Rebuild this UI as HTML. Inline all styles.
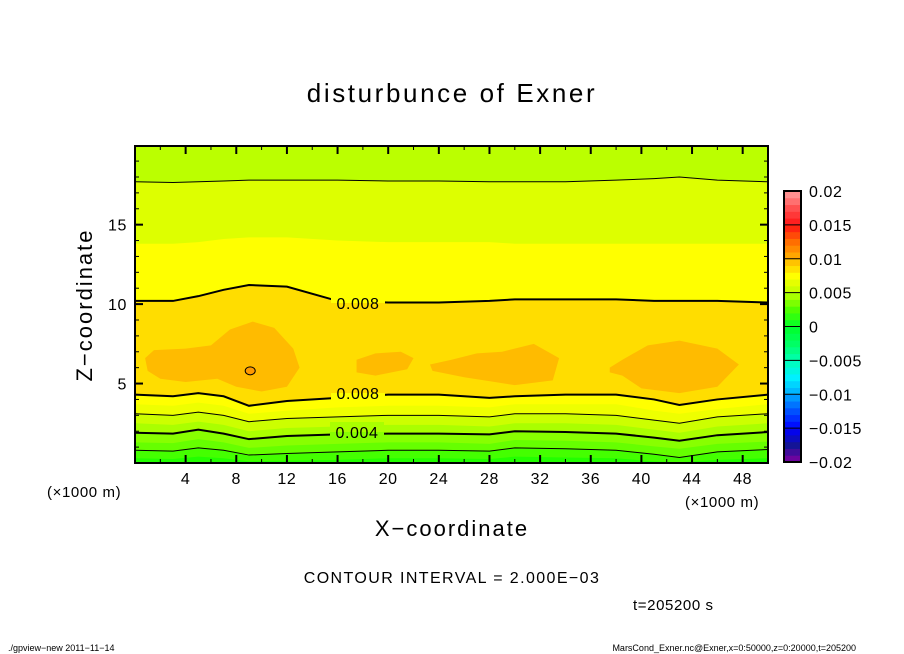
<!DOCTYPE html>
<html><head><meta charset="utf-8"><style>
body{margin:0;background:#fff;width:904px;height:654px;overflow:hidden}
svg{display:block;font-family:"Liberation Sans",sans-serif}
</style></head><body>
<svg id="chart" width="904" height="654" viewBox="0 0 904 654">
<text x="452" y="102" font-size="26" letter-spacing="2.6" text-anchor="middle">disturbunce of Exner</text>
<g id="plot"></g>
<g id="axes"></g>
<g id="cbar"></g>
<text x="452" y="536" font-size="22" letter-spacing="2" text-anchor="middle">X−coordinate</text>
<text transform="translate(92,305) rotate(-90)" font-size="22" letter-spacing="2" text-anchor="middle">Z−coordinate</text>
<text x="47" y="497" font-size="15" letter-spacing="0.6">(×1000 m)</text>
<text x="685" y="507" font-size="15" letter-spacing="0.6">(×1000 m)</text>
<text x="452" y="583" font-size="16" letter-spacing="1.4" text-anchor="middle">CONTOUR INTERVAL = 2.000E−03</text>
<text x="633" y="610" font-size="15" letter-spacing="0.6">t=205200 s</text>
<text x="8" y="651" font-size="9">./gpview−new  2011−11−14</text>
<text x="856" y="651" font-size="9" text-anchor="end">MarsCond_Exner.nc@Exner,x=0:50000,z=0:20000,t=205200</text>
</svg>
<script>
const xs=[0,3,5,7,9,12,16,20,24,28,30,34,38,41,43,46,50];
const lv001=[0.3,0.25,0.4,0.3,0.1,0.15,0.2,0.3,0.3,0.25,0.4,0.35,0.3,0.1,0.05,0.2,0.3];
const lv002=[0.8,0.75,0.95,0.8,0.5,0.6,0.7,0.8,0.8,0.75,0.95,0.9,0.8,0.55,0.35,0.7,0.85];
const lv003=[1.3,1.25,1.5,1.3,0.95,1.1,1.2,1.3,1.3,1.2,1.45,1.4,1.3,1.05,0.9,1.2,1.35];
const lv004=[1.9,1.85,2.1,1.85,1.5,1.7,1.8,1.85,1.85,1.8,2.0,1.95,1.85,1.6,1.4,1.75,1.95];
const lv005=[2.5,2.4,2.6,2.4,2.0,2.2,2.3,2.4,2.4,2.3,2.5,2.5,2.4,2.1,1.9,2.3,2.5];
const lv006=[3.1,3.0,3.2,3.0,2.6,2.8,2.9,3.0,3.0,2.9,3.1,3.1,3.0,2.7,2.5,2.9,3.1];
const lv007=[3.7,3.6,3.8,3.6,3.1,3.3,3.5,3.6,3.6,3.5,3.7,3.7,3.7,3.3,3.1,3.4,3.7];
const lv008lo=[4.3,4.2,4.4,4.2,3.6,3.9,4.1,4.3,4.3,4.1,4.2,4.3,4.3,4.0,3.65,4.0,4.3];
const lv008hi=[10.2,10.2,10.5,10.9,11.2,11.1,10.2,10.1,10.1,10.2,10.3,10.3,10.3,10.2,10.2,10.2,10.1];
const lv007hi=[13.8,13.8,13.9,14.1,14.2,14.2,14.0,13.9,13.9,13.9,13.8,13.8,13.8,13.8,13.8,13.8,13.8];
const lv006hi=[17.7,17.65,17.7,17.75,17.8,17.8,17.8,17.75,17.75,17.7,17.7,17.7,17.8,17.9,18.0,17.8,17.7];
const blob1=[[0.8,6.6],[1.5,7.1],[4,7.2],[6,7.4],[7.5,8.4],[9.3,8.9],[11,8.5],[12.5,7.2],[13,6],[12,4.8],[10,4.5],[8,4.8],[6.5,5.3],[4,5.1],[2,5.3],[1,5.8]];
const blob2=[[17.5,6.5],[19,6.9],[21,7.0],[22,6.6],[21.5,5.9],[19,5.5],[17.5,5.7]];
const blob3=[[23.3,6.2],[25,6.5],[27,6.9],[29,7.0],[31.5,7.5],[33.5,6.6],[33,5.2],[30,4.9],[26,5.4],[23.5,5.8]];
const blob4=[[37.5,6.0],[38.5,6.5],[40.5,7.4],[43,7.7],[46,7.2],[47.7,6.2],[46,4.8],[43,4.4],[40,4.7],[38.5,5.5],[37.5,5.7]];
const spot=[9.1,5.8];
const xTicks=[4,8,12,16,20,24,28,32,36,40,44,48];
const yTicks=[5,10,15];
const cbTicks=[0.02,0.015,0.01,0.005,0,-0.005,-0.01,-0.015,-0.02];
const cbTickText=["0.02","0.015","0.01","0.005","0","−0.005","−0.01","−0.015","−0.02"];

const X0=135,X1=768,Y0=463,Y1=146;
const sx=v=>X0+v*(X1-X0)/50;
const sy=v=>Y0-v*(Y0-Y1)/19.95;
const NS="http://www.w3.org/2000/svg";
function mk(tag,attrs,parent){const e=document.createElementNS(NS,tag);for(const k in attrs)e.setAttribute(k,attrs[k]);parent.appendChild(e);return e;}
const plot=document.getElementById('plot'),axes=document.getElementById('axes'),cb=document.getElementById('cbar');
function linePts(a){return xs.map((x,i)=>sx(x)+','+sy(a[i])).join(' ');}
function band(lo,hi,color,name){
  let pts=xs.map((x,i)=>sx(x)+','+(lo?sy(lo[i]):Y0));
  pts=pts.concat(xs.slice().reverse().map((x,j)=>{const i=xs.length-1-j;return sx(x)+','+(hi?sy(hi[i]):Y1);}));
  const p=mk('polygon',{points:pts.join(' '),fill:color},plot);
  
  
}
band(null,null,'#bbff00','band-top');
band(null,lv006hi,'#ddff00','band-006-007-upper');
band(null,lv007hi,'#ffff00','band-007-008-upper');
band(null,lv008hi,'#ffdd00','band-008-009');
band(null,lv008lo,'#ffff00','band-007-008-lower');
band(null,lv007,'#eeff00','band-0065-007');
band(null,lv006,'#ccff00','band-005-006');
band(null,lv005,'#aaff00','band-004-005');
band(null,lv004,'#88ff00','band-003-004');
band(null,lv003,'#66ff00','band-002-003');
band(null,lv002,'#44ff00','band-001-002');
band(null,lv001,'#22ff00','band-000-001');
[blob1,blob2,blob3,blob4].forEach((b,k)=>{
  const p=mk('polygon',{points:b.map(q=>sx(q[0])+','+sy(q[1])).join(' '),fill:'#ffbb00'},plot);
  
  
});
const sp=mk('ellipse',{cx:sx(spot[0]),cy:sy(spot[1]),rx:5,ry:4,fill:'#ff9900',stroke:'#000','stroke-width':1},plot);


function cline(a,w,name){
  const l=mk('polyline',{points:linePts(a),fill:'none',stroke:'#000','stroke-width':w},plot);
  
  
}
cline(lv002,1,'contour-0.002');
cline(lv004,2,'contour-0.004');
cline(lv006,1,'contour-0.006');
cline(lv008lo,2,'contour-0.008-lower');
cline(lv008hi,2,'contour-0.008-upper');
cline(lv006hi,1,'contour-0.006-upper');
function clabel(txt,x,y,bgTop,bgBot,name){
  const r1=mk('rect',{x:x-27,y:y-10,width:54,height:10,fill:bgTop},plot);
  
  
  const r2=mk('rect',{x:x-27,y:y,width:54,height:10,fill:bgBot},plot);
  
  
  const t=mk('text',{x:x,y:y+6,'font-size':16,'letter-spacing':'0.6','text-anchor':'middle'},plot);t.textContent=txt;
  
  
}
clabel('0.008',358,303,'#ffff00','#ffdd00','contour-label-upper');
clabel('0.008',358,393,'#ffdd00','#ffff00','contour-label-lower');
clabel('0.004',357,432,'#aaff00','#88ff00','contour-label-004');
const fr=mk('rect',{x:X0,y:Y1,width:X1-X0,height:Y0-Y1,fill:'none',stroke:'#000','stroke-width':2},axes);


for(let v=2;v<50;v+=2){
  const major=xTicks.includes(v),L=major?8:4;
  mk('line',{x1:sx(v),x2:sx(v),y1:Y0,y2:Y0-L,stroke:'#000','stroke-width':major?2:1},axes);
  mk('line',{x1:sx(v),x2:sx(v),y1:Y1,y2:Y1+L,stroke:'#000','stroke-width':major?2:1},axes);
}
xTicks.forEach(v=>{const t=mk('text',{x:sx(v),y:484,'font-size':16,'letter-spacing':'0.6','text-anchor':'middle'},axes);t.textContent=v;
  
  });
for(let v=1;v<20;v++){
  const major=yTicks.includes(v),L=major?8:4;
  mk('line',{x1:X0,x2:X0+L,y1:sy(v),y2:sy(v),stroke:'#000','stroke-width':major?2:1},axes);
  mk('line',{x1:X1,x2:X1-L,y1:sy(v),y2:sy(v),stroke:'#000','stroke-width':major?2:1},axes);
}
yTicks.forEach(v=>{const t=mk('text',{x:127,y:sy(v)+6,'font-size':16,'letter-spacing':'0.6','text-anchor':'end'},axes);t.textContent=v;
  
  });
// colorbar
const CY0=462,CY1=191,CX=784,CW=17;
const cy=v=>CY0-(v+0.02)/0.04*(CY0-CY1);
const anchors=[[-0.02,[130,0,160]],[-0.0175,[20,20,150]],[-0.015,[0,0,255]],[-0.0125,[0,80,255]],[-0.01,[0,170,255]],[-0.0075,[0,240,255]],[-0.005,[0,255,180]],[-0.0025,[0,255,100]],[0,[0,255,40]],[0.0025,[80,255,0]],[0.005,[190,255,0]],[0.0075,[255,255,0]],[0.01,[255,180,0]],[0.0125,[255,110,0]],[0.015,[255,20,20]],[0.0175,[255,80,80]],[0.02,[255,160,160]]];
function col(v){for(let i=0;i<anchors.length-1;i++){const a=anchors[i],b=anchors[i+1];if(v<=b[0]){const f=(v-a[0])/(b[0]-a[0]);return 'rgb('+a[1].map((c,j)=>Math.round(c+(b[1][j]-c)*f)).join(',')+')';}}return 'rgb(255,160,160)';}
for(let i=0;i<40;i++){const lo=-0.02+i*0.001;
  const r=mk('rect',{x:CX,y:cy(lo+0.001),width:CW,height:cy(lo)-cy(lo+0.001)+0.5,fill:col(lo+0.0005)},cb);
  
  }
cbTicks.forEach((v,i)=>{
  mk('line',{x1:CX,x2:CX+CW,y1:cy(v),y2:cy(v),stroke:'#000','stroke-width':1},cb);
  const t=mk('text',{x:809,y:cy(v)+6,'font-size':16,'letter-spacing':'0.6'},cb);t.textContent=cbTickText[i];
  
  
});
const cf=mk('rect',{x:CX,y:CY1,width:CW,height:CY0-CY1,fill:'none',stroke:'#000','stroke-width':2},cb);


</script>
</body></html>
